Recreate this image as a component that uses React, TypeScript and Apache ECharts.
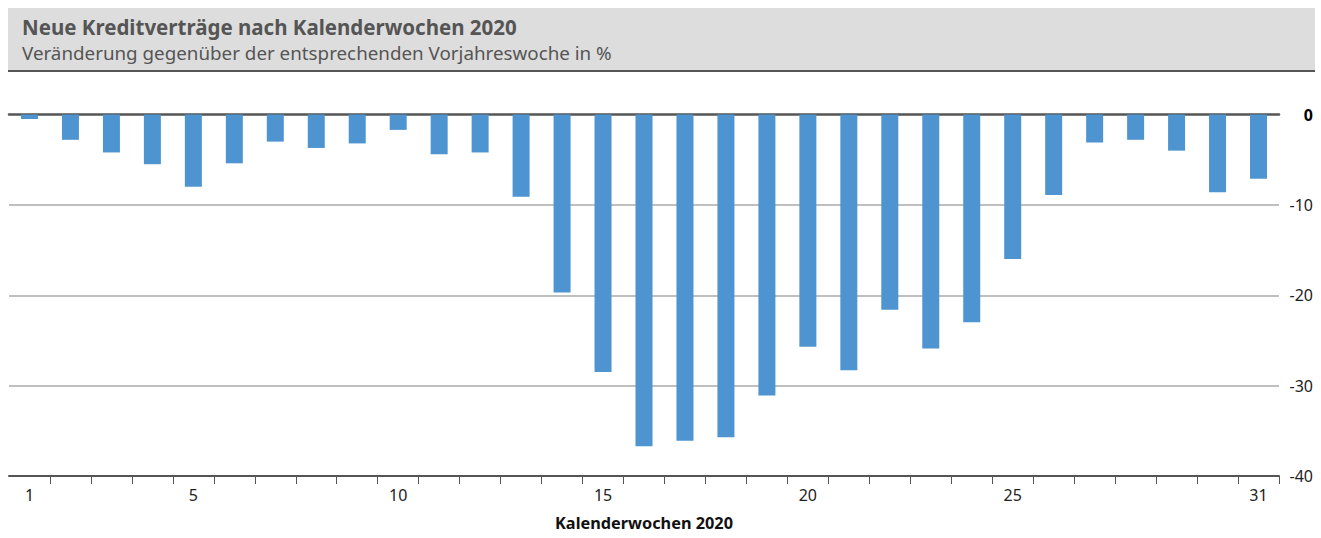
import React, { useEffect, useRef } from "react";
import * as echarts from "echarts";

const weeks: string[] = [
  "1","2","3","4","5","6","7","8","9","10","11","12","13","14","15","16",
  "17","18","19","20","21","22","23","24","25","26","27","28","29","30","31",
];
const changePct: number[] = [
  -0.5, -2.8, -4.2, -5.5, -8.0, -5.4, -3.0, -3.7, -3.2, -1.7, -4.4, -4.2, -9.1,
  -19.7, -28.5, -36.7, -36.1, -35.7, -31.1, -25.7, -28.3, -21.6, -25.9, -23.0,
  -16.0, -8.9, -3.1, -2.8, -4.0, -8.6, -7.1,
];
const shownWeekLabels: string[] = ["1", "5", "10", "15", "20", "25", "31"];
const yMin = -40;
const yMax = 0;
const yStep = 10;

const title = "Neue Kreditverträge nach Kalenderwochen 2020";
const subtitle = "Veränderung gegenüber der entsprechenden Vorjahreswoche in %";
const xAxisName = "Kalenderwochen 2020";

const FONT = "'Noto Sans', 'DejaVu Sans', sans-serif";

export default function App() {
  const ref = useRef<HTMLDivElement>(null);

  useEffect(() => {
    if (!ref.current) return;
    const chart = echarts.init(ref.current, undefined, { renderer: "svg" });
    chart.setOption({
      animation: false,
      textStyle: { fontFamily: FONT },
      graphic: [
        {
          type: "rect",
          shape: { x: 8, y: 8, width: 1307, height: 62 },
          style: { fill: "#dddddd" },
          silent: true,
        },
        {
          type: "line",
          shape: { x1: 8, y1: 71, x2: 1315, y2: 71 },
          style: { stroke: "#555555", lineWidth: 2 },
          silent: true,
        },
        {
          type: "text",
          x: 22,
          y: 27,
          style: {
            text: title,
            font: `bold 20.5px ${FONT}`,
            fill: "#555555",
            textVerticalAlign: "middle",
          },
          silent: true,
        },
        {
          type: "text",
          x: 22,
          y: 53,
          style: {
            text: subtitle,
            font: `18.8px ${FONT}`,
            fill: "#555555",
            textVerticalAlign: "middle",
          },
          silent: true,
        },
      ],
      grid: { left: 9, right: 42, top: 114.5, bottom: 62, containLabel: false },
      xAxis: [
        {
          type: "category",
          data: weeks,
          position: "bottom",
          boundaryGap: true,
          axisLine: { show: true, onZero: false, lineStyle: { color: "#555555", width: 2 } },
          axisTick: {
            show: true,
            length: 8,
            interval: (i: number) => i !== 0,
            lineStyle: { color: "#555555", width: 1 },
          },
          axisLabel: {
            interval: (_i: number, v: string) => shownWeekLabels.includes(v),
            color: "#222222",
            fontSize: 16,
            fontFamily: FONT,
            margin: 11,
          },
          name: xAxisName,
          nameLocation: "middle",
          nameGap: 39,
          nameTextStyle: {
            fontWeight: "bold",
            fontSize: 16.3,
            color: "#111111",
            fontFamily: FONT,
          },
          splitLine: { show: false },
        },
        {
          type: "category",
          data: weeks,
          position: "top",
          axisLine: { show: true, onZero: false, lineStyle: { color: "#555555", width: 2.5 } },
          axisTick: { show: false },
          axisLabel: { show: false },
          splitLine: { show: false },
        },
      ],
      yAxis: {
        type: "value",
        position: "right",
        min: yMin,
        max: yMax,
        interval: yStep,
        axisLine: { show: false },
        axisTick: { show: false },
        splitLine: {
          show: true,
          showMinLine: false,
          showMaxLine: false,
          lineStyle: { color: "#aaaaaa", width: 1.5 },
        },
        axisLabel: {
          align: "right",
          margin: 34,
          color: "#222222",
          fontSize: 16,
          fontFamily: FONT,
          formatter: (v: number) => (v === 0 ? "{z|0}" : `${v}`),
          rich: {
            z: { fontWeight: "bold", fontSize: 16, color: "#000000", fontFamily: FONT },
          },
        },
      },
      series: [
        {
          type: "bar",
          data: changePct,
          xAxisIndex: 0,
          barWidth: 17,
          itemStyle: { color: "#4e94d0" },
        },
      ],
    });
    return () => chart.dispose();
  }, []);

  return (
    <div
      ref={ref}
      style={{ position: "fixed", left: 0, top: 0, width: 1321, height: 538, background: "#ffffff" }}
    />
  );
}
